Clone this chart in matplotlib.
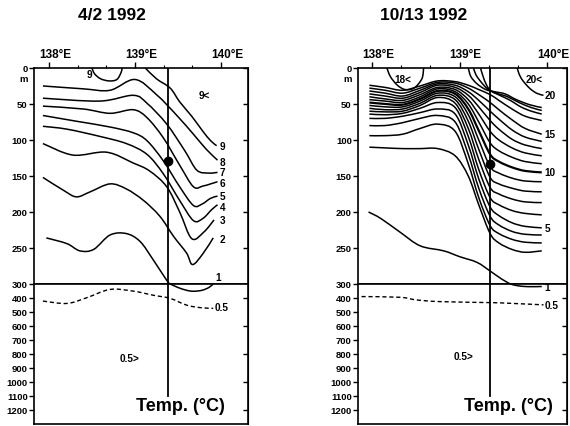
import matplotlib
matplotlib.use('Agg')
from matplotlib import pyplot as plt
from matplotlib.path import Path
from matplotlib.patches import PathPatch

FONT = ['Liberation Sans', 'DejaVu Sans']

# ---------------- 4/2 1992 (left section), lon [deg E] / depth [m] ----------------
a9_lon = [139.12, 139.25, 139.41, 139.52, 139.66, 139.79, 139.88, 139.95]
a9_dep = [0, 15, 28, 47, 67, 88, 101, 108]
a9b_lon = [138.50, 138.53, 138.60, 138.70, 138.79, 138.84, 138.85]
a9b_dep = [0, 8, 15, 18, 16, 6, 0]
a8_lon = [137.93, 138.40, 138.71, 139.00, 139.25, 139.48, 139.68, 139.83, 139.96]
a8_dep = [25, 29, 31, 16, 37, 65, 92, 113, 128]
a7_lon = [137.93, 138.59, 138.98, 139.14, 139.37, 139.58, 139.72, 139.86, 139.96]
a7_dep = [42, 46, 38, 49, 78, 115, 142, 146, 145]
a6_lon = [137.93, 138.40, 138.71, 138.98, 139.14, 139.33, 139.52, 139.68, 139.79, 139.88, 139.96]
a6_dep = [53, 57, 63, 58, 69, 97, 135, 165, 164, 161, 158]
a5_lon = [137.93, 138.32, 138.71, 138.98, 139.14, 139.33, 139.52, 139.68, 139.78, 139.88, 139.96]
a5_dep = [66, 74, 82, 90, 101, 129, 165, 191, 189, 181, 178]
a4_lon = [137.93, 138.21, 138.59, 138.90, 139.14, 139.33, 139.52, 139.68, 139.79, 139.89, 139.96]
a4_dep = [81, 85, 95, 105, 120, 147, 184, 212, 209, 197, 190]
a3_lon = [137.93, 138.28, 138.67, 138.98, 139.17, 139.37, 139.52, 139.66, 139.80, 139.92]
a3_dep = [105, 121, 117, 132, 143, 165, 200, 237, 228, 211]
a2_lon = [137.93, 138.17, 138.32, 138.48, 138.71, 138.90, 139.10, 139.29, 139.45, 139.60, 139.67, 139.79, 139.91]
a2_dep = [152, 170, 179, 172, 161, 168, 184, 206, 234, 257, 273, 258, 236]
a1_lon = [137.97, 138.21, 138.36, 138.52, 138.71, 138.90, 139.06, 139.21, 139.37, 139.41]
a1_dep = [236, 244, 254, 252, 232, 230, 241, 266, 295, 300]
a1d_lon = [139.41, 139.50, 139.60, 139.68, 139.78, 139.86, 139.91]
a1d_dep = [300, 325, 345, 352, 345, 325, 300]
a05_lon = [137.93, 138.21, 138.44, 138.71, 138.98, 139.21, 139.41, 139.60, 139.76, 139.91]
a05_dep = [422, 439, 398, 339, 351, 380, 403, 451, 469, 474]
a_labels = ['9', '8', '7', '6', '5', '4', '3', '2', '1']
a_label_dep = [109, 130, 145, 160, 178, 193, 211, 238, 291]
a_station = 139.39
a_dot = 129

# ---------------- 10/13 1992 (right section) ----------------
b_lon = [137.97, 138.15, 138.35, 138.55, 138.75, 138.95, 139.10, 139.22, 139.35, 139.45, 139.60, 139.75, 139.94]
b16 = [24, 27, 31, 25, 18, 19, 24, 30, 37, 45, 57, 67, 73]
b15 = [28, 31, 35, 28, 20, 21, 28, 37, 48, 58, 72, 84, 92]
b14 = [32, 35, 39, 31, 22, 24, 33, 45, 60, 71, 86, 96, 102]
b13 = [36, 39, 42, 34, 24, 27, 38, 54, 73, 85, 99, 107, 112]
b12 = [40, 43, 45, 37, 27, 30, 44, 64, 88, 100, 111, 118, 122]
b11 = [44, 46, 48, 40, 29, 33, 50, 75, 104, 115, 124, 130, 133]
b10 = [48, 50, 51, 43, 32, 36, 57, 87, 120, 130, 138, 143, 145]
b9 = [52, 54, 54, 46, 35, 40, 65, 100, 137, 146, 153, 157, 158]
b8 = [56, 58, 57, 49, 38, 44, 74, 113, 152, 161, 167, 171, 172]
b7 = [60, 61, 60, 52, 41, 49, 84, 127, 166, 175, 182, 186, 187]
b6 = [64, 65, 63, 56, 48, 55, 95, 141, 180, 190, 198, 202, 204]
b5 = [70, 70, 67, 62, 57, 64, 107, 154, 193, 205, 215, 220, 222]
b4 = [80, 80, 76, 70, 66, 75, 120, 167, 206, 218, 227, 231, 232]
b3 = [94, 94, 92, 84, 78, 88, 133, 180, 219, 230, 238, 242, 243]
b2 = [110, 111, 112, 112, 112, 122, 150, 190, 230, 243, 252, 256, 254]
b19_lon = [139.10, 139.13, 139.20, 139.30, 139.40, 139.52, 139.65, 139.80, 139.94]
b19_dep = [0, 12, 22, 30, 33, 36, 44, 51, 55]
b18_lon = [139.16, 139.19, 139.25, 139.32, 139.42, 139.55, 139.68, 139.82, 139.94]
b18_dep = [0, 10, 20, 29, 35, 40, 48, 55, 59]
b17_lon = [139.24, 139.27, 139.31, 139.36, 139.46, 139.58, 139.70, 139.82, 139.94]
b17_dep = [0, 12, 24, 32, 38, 45, 54, 60, 64]
b20_lon = [139.66, 139.68, 139.72, 139.80, 139.88, 139.96]
b20_dep = [0, 8, 17, 28, 35, 38]
b18b_lon = [138.17, 138.21, 138.29, 138.38, 138.48, 138.57, 138.59]
b18b_dep = [0, 12, 24, 30, 28, 15, 0]
b1_lon = [137.96, 138.10, 138.32, 138.55, 138.82, 139.00, 139.20, 139.35, 139.48, 139.58]
b1_dep = [200, 209, 228, 247, 254, 262, 270, 282, 293, 300]
b1d_lon = [139.58, 139.66, 139.78, 139.94]
b1d_dep = [300, 312, 319, 318]
b05_lon = [137.88, 138.32, 138.51, 138.78, 139.35, 139.54, 139.96]
b05_dep = [390, 395, 414, 426, 433, 437, 449]
b_labels = ['20', '15', '10', '5']
b_label_dep = [38, 92, 145, 222]
b_station = 139.35
b_dot = 134

lon_ticks = [138, 139, 140]
lon_tick_labels = ['138°E', '139°E', '140°E']


def curve(ax, lon, dep, lw=1.1, ls='-'):
    # catmull-rom through the read points, drawn as bezier path in data coords
    p = list(zip(lon, dep))
    ext = [p[0]] + p + [p[-1]]
    verts = [p[0]]
    codes = [Path.MOVETO]
    for i in range(1, len(ext) - 2):
        p0, p1, p2, p3 = ext[i - 1], ext[i], ext[i + 1], ext[i + 2]
        c1 = (p1[0] + (p2[0] - p0[0]) / 6, p1[1] + (p2[1] - p0[1]) / 6)
        c2 = (p2[0] - (p3[0] - p1[0]) / 6, p2[1] - (p3[1] - p1[1]) / 6)
        verts += [c1, c2, p2]
        codes += [Path.CURVE4] * 3
    ax.add_patch(PathPatch(Path(verts, codes), fill=False, ec='black', lw=lw,
                           ls=ls, capstyle='butt', joinstyle='round'))


def setup(fig, x, w, xlim):
    top = fig.add_axes([x, 0.3326, w, 0.5059])
    bot = fig.add_axes([x, 0.0047, w, 0.3279])
    for ax in (top, bot):
        ax.set_xlim(*xlim)
        for s in ax.spines.values():
            s.set_linewidth(1.2)
        ax.tick_params(axis='y', direction='out', length=3.5, width=1.0, pad=1)
        sec = ax.secondary_yaxis('right')
        sec.tick_params(direction='in', length=3.5, width=1.0, labelright=False)
    top.set_ylim(300, 0)
    top.set_yticks([0, 50, 100, 150, 200, 250, 300])
    top.set_yticklabels(['0', '50', '100', '150', '200', '250', '300'],
                        fontsize=6.8, fontweight='bold', family=FONT)
    top.text(-0.03, 14, 'm', transform=top.get_yaxis_transform(), ha='right',
             va='center', fontsize=6.8, fontweight='bold', family=FONT)
    top.xaxis.tick_top()
    top.set_xticks(lon_ticks)
    top.set_xticklabels([])
    for v, t in zip(lon_ticks, lon_tick_labels):
        # digits centred on the tick, the degree/E part hanging to the right
        top.annotate(t, xy=(v, 1), xycoords=top.get_xaxis_transform(),
                     xytext=(-7.2, 5.5), textcoords='offset points', ha='left',
                     va='bottom', fontsize=8.5, fontweight='bold', family=FONT)
    top.set_xticks([138 + 1 / 3, 138 + 2 / 3, 139 + 1 / 3, 139 + 2 / 3], minor=True)
    top.tick_params(axis='x', which='major', direction='out', length=4, width=1.0)
    top.tick_params(axis='x', which='minor', direction='out', length=2.5, width=0.8)
    bot.set_ylim(1300, 300)
    bot.set_yticks(list(range(400, 1300, 100)))
    bot.set_yticklabels([str(v) for v in range(400, 1300, 100)], fontsize=6.8,
                        fontweight='bold', family=FONT)
    bot.set_xticks([])
    return top, bot


fig = plt.figure(figsize=(5.7, 4.27), dpi=100)
lbl = dict(fontsize=7.2, fontweight='bold', family=FONT, va='center', ha='left')

# ---- left ----
at, ab = setup(fig, 0.0596, 0.3754, (137.826, 140.314))
for lon, dep in [(a9_lon, a9_dep), (a9b_lon, a9b_dep), (a8_lon, a8_dep), (a7_lon, a7_dep),
                 (a6_lon, a6_dep), (a5_lon, a5_dep), (a4_lon, a4_dep), (a3_lon, a3_dep),
                 (a2_lon, a2_dep), (a1_lon, a1_dep)]:
    curve(at, lon, dep)
curve(ab, a1d_lon, a1d_dep)
curve(ab, a05_lon, a05_dep, lw=1.0, ls=(0, (3, 2)))
for t, d in zip(a_labels, a_label_dep):
    at.text(139.985 if t != '1' else 139.93, d, t, **lbl)
at.text(138.44, 9, '9', **lbl)
at.text(139.74, 37, '9<', **lbl)
ab.text(139.93, 466, '0.5', **lbl)
ab.text(138.82, 830, '0.5>', **lbl)
at.plot([a_station, a_station], [0, 300], color='black', lw=1.3)
ab.plot([a_station, a_station], [300, 1100], color='black', lw=1.3)
at.plot([a_station], [a_dot], 'o', color='black', ms=6)
ab.text(140.05, 1171, 'Temp. (°C)', fontsize=13, family=FONT, fontweight='bold',
        ha='right', va='center')
fig.text(112 / 570, 1 - 15 / 427, '4/2 1992', fontsize=12.5, family=FONT,
         fontweight='bold', ha='center', va='center')

# ---- right ----
bt, bb = setup(fig, 0.6281, 0.3667, (137.84, 140.229))
for dep in [b16, b15, b14, b13, b12, b11, b9, b8, b7, b6, b5, b4, b3, b2]:
    curve(bt, b_lon, dep)
curve(bt, b_lon, b10, lw=1.6)
for lon, dep in [(b19_lon, b19_dep), (b18_lon, b18_dep), (b17_lon, b17_dep),
                 (b20_lon, b20_dep), (b18b_lon, b18b_dep), (b1_lon, b1_dep)]:
    curve(bt, lon, dep)
curve(bb, b1d_lon, b1d_dep)
curve(bb, b05_lon, b05_dep, lw=1.0, ls=(0, (3, 2)))
for t, d in zip(b_labels, b_label_dep):
    bt.text(139.975, d, t, **lbl)
bt.text(138.25, 15, '18<', **lbl)
bt.text(139.76, 16, '20<', **lbl)
bb.text(139.975, 320, '1', **lbl)
bb.text(139.975, 449, '0.5', **lbl)
bb.text(138.93, 817, '0.5>', **lbl)
bt.plot([b_station, b_station], [0, 300], color='black', lw=1.3)
bb.plot([b_station, b_station], [300, 1100], color='black', lw=1.3)
bt.plot([b_station], [b_dot], 'o', color='black', ms=6)
bb.text(140.07, 1171, 'Temp. (°C)', fontsize=13, family=FONT, fontweight='bold',
        ha='right', va='center')
fig.text(424 / 570, 1 - 15 / 427, '10/13 1992', fontsize=12.5, family=FONT,
         fontweight='bold', ha='center', va='center')

fig.savefig('out.png', dpi=100)
